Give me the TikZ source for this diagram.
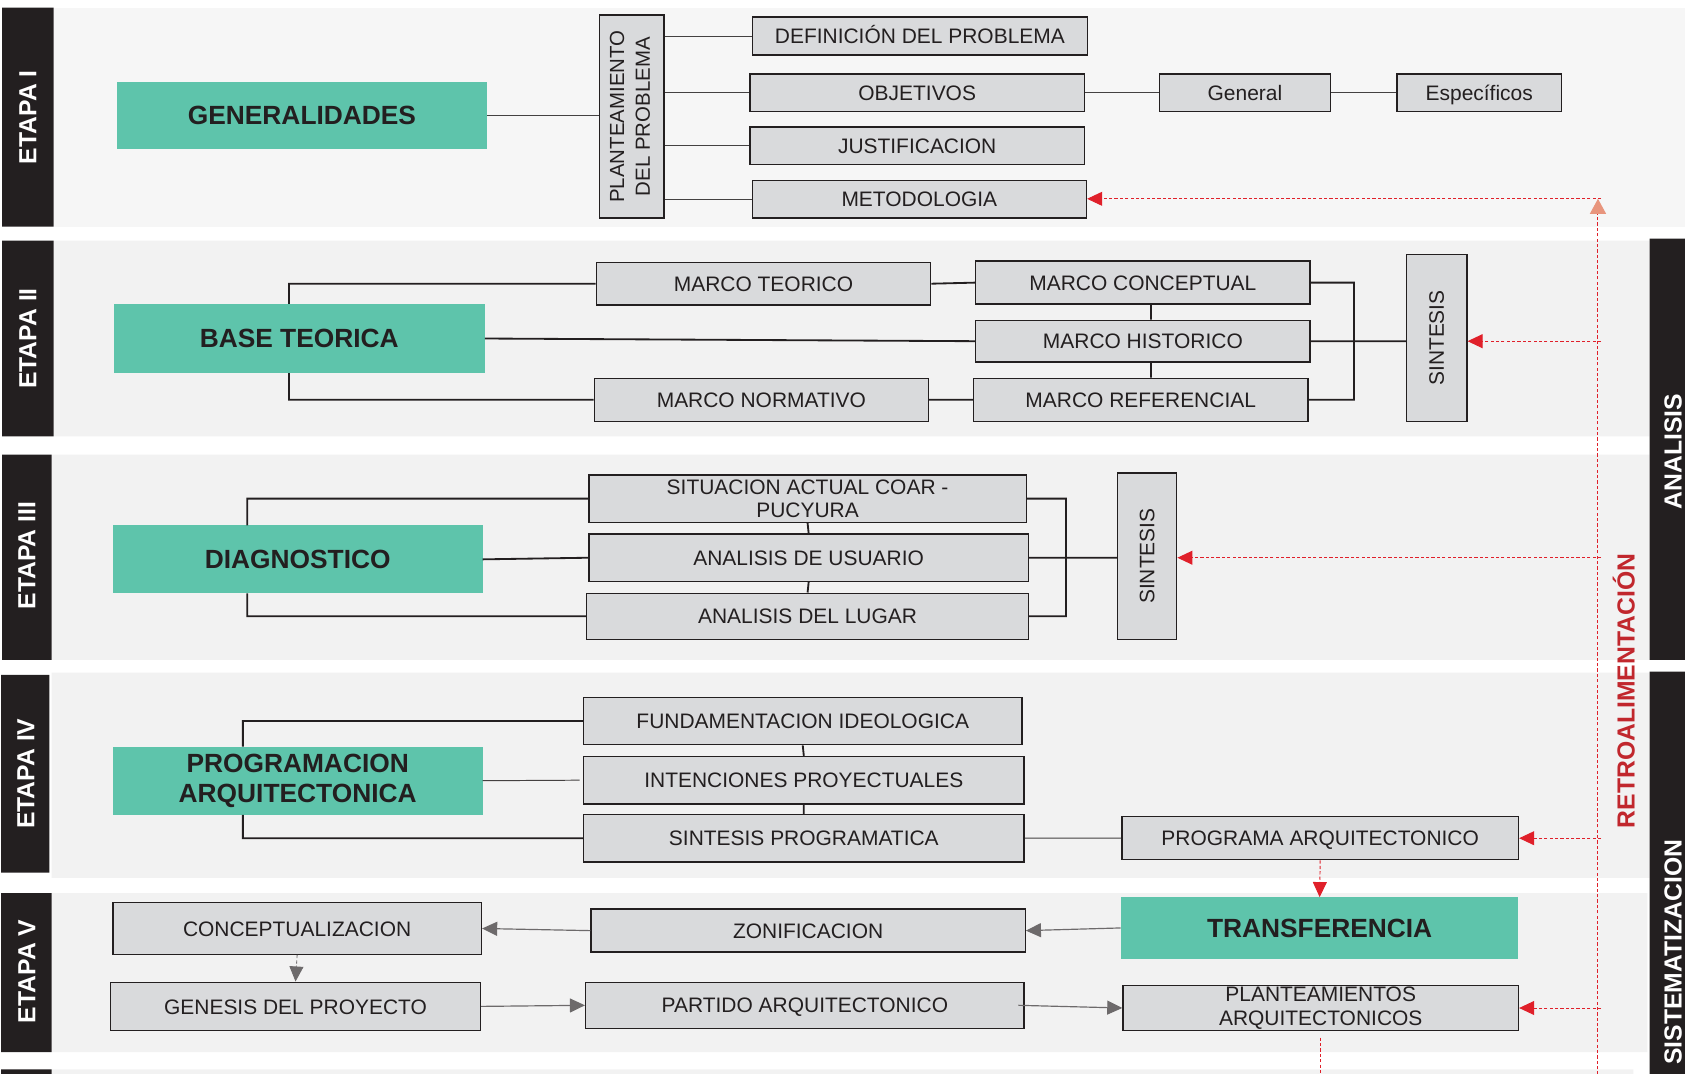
\documentclass[tikz,border=0pt]{standalone}
\usepackage{fontspec}
\setmainfont{Liberation Sans}
\usepackage{graphicx}
\usetikzlibrary{arrows.meta}

\definecolor{tabblack}{HTML}{231F20}
\definecolor{bandgray}{HTML}{F2F2F2}
\definecolor{bandtop}{HTML}{F6F6F6}
\definecolor{boxgray}{HTML}{D9DADC}
\definecolor{stagegreen}{HTML}{5EC4AB}
\definecolor{retro}{HTML}{E0202A}
\definecolor{retrotext}{HTML}{C1272D}
\definecolor{retrosoft}{HTML}{E8957D}
\definecolor{arrowgray}{HTML}{6D6A6B}

\tikzset{
  box/.style={draw=tabblack, fill=boxgray, line width=1.3pt, text=tabblack,
    font=\fontsize{19.5}{22}\selectfont, align=center, inner sep=0pt},
  cell/.style={box, text height=14.2pt, text depth=0pt},
  stage/.style={fill=stagegreen, text=tabblack, align=center, inner sep=0pt,
    font=\bfseries\fontsize{24.5}{28}\selectfont},
  etapa/.style={rotate=90, text=white, inner sep=0pt, font=\bfseries\fontsize{23}{26}\selectfont},
  sidebar/.style={rotate=90, text=white, inner sep=0pt, font=\bfseries\fontsize{23}{26}\selectfont},
  link/.style={draw=tabblack, line width=1.7pt},
  thinlink/.style={draw=tabblack!85, line width=0.9pt},
  flow/.style={draw=arrowgray, line width=1.1pt, -{Triangle[length=14pt,width=13pt]}},
  feedback/.style={draw=retro, line width=0.9pt, dash pattern=on 3pt off 2pt},
  feedarrow/.style={feedback, -{Triangle[length=14pt,width=13pt]}}
}

\begin{document}
\begin{tikzpicture}[x=1pt,y=-1pt]
\useasboundingbox (0,0) rectangle (1568,999);
% bands
\fill[bandtop] (50,7) rectangle (1568,211);
\fill[bandgray]
(50,224) rectangle (1535,406)
(48,423) rectangle (1535,614)
(48,626) rectangle (1535,817)
(48,831) rectangle (1533,979)
(48,995) rectangle (1520,1000);
\fill[tabblack]
(2,7) rectangle (50,211)
(2,224) rectangle (50,406)
(2,423) rectangle (48,614)
(1,628) rectangle (46,812)
(1,831) rectangle (48,979)
(1,995) rectangle (48,1000)
(1535,222) rectangle (1568,614)
(1535,625) rectangle (1568,1000);

\node[etapa] (et1) at (26,109) {ETAPA I};
\node[etapa] (et2) at (26,315) {ETAPA II};
\node[etapa] (et3) at (25,517) {ETAPA III};
\node[etapa] (et4) at (24,720) {ETAPA IV};
\node[etapa] (et5) at (25,904) {ETAPA V};
\node[sidebar] (ana) at (1557,420) {ANALISIS};
\node[sidebar] (sis) at (1557,886) {SISTEMATIZACION};
\node[sidebar, text=retrotext] (ret) at (1511,643) {RETROALIMENTACIÓN};

% etapa I
\node[stage, minimum width=344, minimum height=63] (gen) at (281,107.5) {GENERALIDADES};
\node[box, minimum width=60, minimum height=189] (plan) at (588,108.5)
  {\rotatebox{90}{\fontsize{19}{24}\selectfont\begin{tabular}{@{}c@{}}PLANTEAMIENTO\\DEL PROBLEMA\end{tabular}}};
\node[cell, minimum width=312, minimum height=35] (defi) at (856,33.5) {DEFINICIÓN DEL PROBLEMA};
\node[cell, minimum width=311, minimum height=35] (obj) at (853.5,86.5) {OBJETIVOS};
\node[cell, minimum width=311, minimum height=35] (just) at (853.5,135.5) {JUSTIFICACION};
\node[cell, minimum width=311, minimum height=35] (meto) at (855.5,185.5) {METODOLOGIA};
\node[cell, minimum width=159, minimum height=35] (general) at (1158.5,86.5) {General};
\node[cell, minimum width=153, minimum height=35] (espec) at (1376.5,86.5) {Específicos};
\draw[thinlink] (gen.east) -- (gen.east -| plan.west);
\draw[thinlink]
(plan.east |- defi.west) -- (defi.west)
(plan.east |- obj.west) -- (obj.west)
(plan.east |- just.west) -- (just.west)
(plan.east |- meto.west) -- (meto.west)
(obj.east) -- (general.west)
(general.east) -- (espec.west);

% etapa II
\node[stage, minimum width=345, minimum height=64] (base) at (278.5,315) {BASE TEORICA};
\node[cell, minimum width=311, minimum height=40] (mteo) at (710.5,264) {MARCO TEORICO};
\node[cell, minimum width=311, minimum height=40] (mcon) at (1063.5,263) {MARCO CONCEPTUAL};
\node[cell, minimum width=311, minimum height=39] (mhis) at (1063.5,317.5) {MARCO HISTORICO};
\node[cell, minimum width=311, minimum height=40] (mnor) at (708.5,372) {MARCO NORMATIVO};
\node[cell, minimum width=311, minimum height=40] (mref) at (1061.5,372) {MARCO REFERENCIAL};
\node[box, minimum width=56, minimum height=155] (sint2) at (1337,314.5) {\rotatebox{90}{SINTESIS}};
\coordinate (k2) at (1260,0);
\draw[link]
([xshift=-9.5pt]base.north) |- (mteo.west)
([xshift=-9.5pt]base.south) |- (mnor.west)
(base.east) -- (mhis.west)
(mteo.east) -- (mcon.west)
(mnor.east) -- (mref.west)
([xshift=7.5pt]mcon.south) -- ([xshift=7.5pt]mhis.north)
([xshift=7.5pt]mhis.south) -- ([xshift=9.5pt]mref.north)
(mcon.east) -| (k2 |- mref.east) -- (mref.east)
(mhis.east) -- (mhis.east -| sint2.west);

% etapa III
\node[stage, minimum width=344, minimum height=63] (diag) at (277,520.5) {DIAGNOSTICO};
\node[box, minimum width=407, minimum height=44] (sit) at (751.5,464) {SITUACION ACTUAL COAR -\\PUCYURA};
\node[cell, minimum width=409, minimum height=44] (usu) at (752.5,519) {ANALISIS DE USUARIO};
\node[cell, minimum width=411, minimum height=43] (lug) at (751.5,573.5) {ANALISIS DEL LUGAR};
\node[box, minimum width=55, minimum height=155] (sint3) at (1067.5,517.5) {\rotatebox{90}{SINTESIS}};
\coordinate (k3) at (992,0);
\draw[link]
([xshift=-47pt]diag.north) |- (sit.west)
([xshift=-47pt]diag.south) |- (lug.west)
(diag.east) -- (usu.west)
(sit.south) -- (usu.north)
(usu.south) -- (lug.north)
(sit.east) -| (k3 |- lug.east) -- (lug.east)
(usu.east) -- (usu.east -| sint3.west);

% etapa IV
\node[stage, minimum width=344, minimum height=63] (prog) at (277,726.5) {PROGRAMACION\\ARQUITECTONICA};
\node[cell, minimum width=408, minimum height=44] (fund) at (747,671) {FUNDAMENTACION IDEOLOGICA};
\node[cell, minimum width=410, minimum height=44] (inte) at (748,726) {INTENCIONES PROYECTUALES};
\node[cell, minimum width=410, minimum height=44] (sinp) at (748,780) {SINTESIS PROGRAMATICA};
\node[cell, minimum width=369, minimum height=40] (parq) at (1228.5,780) {PROGRAMA ARQUITECTONICO};
\draw[link]
([xshift=-51pt]prog.north) |- (fund.west)
([xshift=-51pt]prog.south) |- (sinp.west)
(fund.south) -- (inte.north)
(inte.south) -- (sinp.north);
\draw[thinlink]
(prog.east) -- ([xshift=-3pt]inte.west)
(sinp.east) -- (parq.west);

% etapa V
\node[stage, minimum width=370, minimum height=57] (trans) at (1228,863.5) {TRANSFERENCIA};
\node[cell, minimum width=404, minimum height=40] (zon) at (752,866) {ZONIFICACION};
\node[cell, minimum width=343, minimum height=48] (conc) at (276.5,864) {CONCEPTUALIZACION};
\node[cell, minimum width=344, minimum height=45] (gen2) at (275,936.5) {GENESIS DEL PROYECTO};
\node[cell, minimum width=408, minimum height=43] (part) at (749,935.5) {PARTIDO ARQUITECTONICO};
\node[box, minimum width=368, minimum height=42] (plarq) at (1229,938) {PLANTEAMIENTOS\\ARQUITECTONICOS};
\draw[flow] (trans.west) -- (zon.east);
\draw[flow] (zon.west) -- (conc.east);
\draw[flow, line width=0.8pt, dash pattern=on 3pt off 2pt] (conc.south) -- (gen2.north);
\draw[flow] (gen2.east) -- (part.west);
\draw[flow] ([xshift=-6pt]part.east) -- (plarq.west);

% retroalimentacion
\coordinate (rb) at (1487,1000);
\coordinate (rt) at (1487,185);
\coordinate (rx) at (1490,0);
\draw[feedback, -{Triangle[length=14pt,width=15pt,color=retrosoft]}] (rb) -- (rt);
\draw[feedarrow] (rx |- rt) -- (rt -| meto.east);
\draw[feedarrow] (rx |- mhis.east) -- (mhis.east -| sint2.east);
\draw[feedarrow] (rx |- usu.east) -- (usu.east -| sint3.east);
\draw[feedarrow] (rx |- parq.east) -- (parq.east);
\draw[feedarrow] (rx |- plarq.east) -- (plarq.east);
\draw[feedarrow] (parq.south) -- (trans.north);
\draw[feedback] ([yshift=-6pt]plarq.south) -- (plarq.south |- rb);
\end{tikzpicture}
\end{document}
